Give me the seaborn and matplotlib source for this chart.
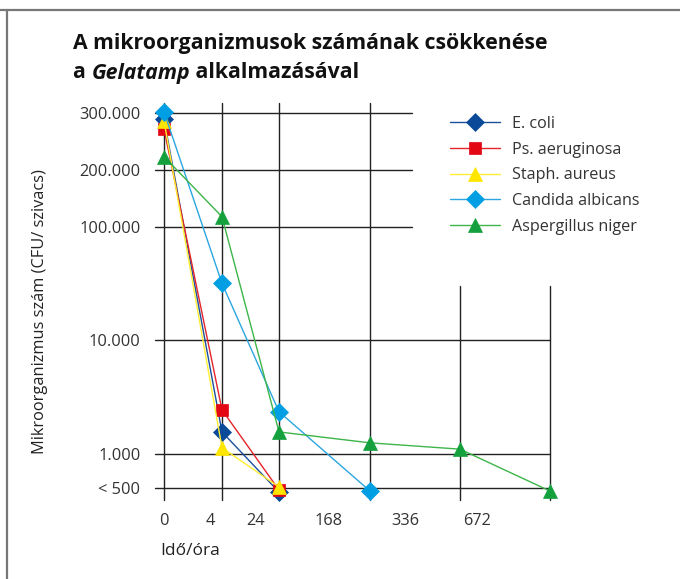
"""Decline of microorganism counts with Gelatamp - recreated chart."""
import numpy as np
import pandas as pd
import matplotlib
matplotlib.use('Agg')
import matplotlib.pyplot as plt
import matplotlib.transforms as mtransforms
from matplotlib.lines import Line2D
import seaborn as sns

# --- data -------------------------------------------------------------
hours = [0, 4, 24, 168, 336, 672]
hour_labels = ['0', '4', '24', '168', '336', '672']

e_coli = [290000, 1560, 460]
ps_aeruginosa = [273000, 2440, 480]
staph_aureus = [287000, 1130, 510]
candida_albicans = [303000, 31800, 2350, 470]
aspergillus_niger = [224000, 118000, 1560, 1250, 1100, 470]

y_ticks = [300000, 200000, 100000, 10000, 1000, 500]
y_labels = ['300.000', '200.000', '100.000', '10.000', '1.000', '< 500']

series = [
    ('E. coli', e_coli, '#1b4f9c', '#0b4a98', 'D', 9.5),
    ('Ps. aeruginosa', ps_aeruginosa, '#e3242b', '#e30613', 's', 9),
    ('Staph. aureus', staph_aureus, '#ffee33', '#ffe600', '^', 10),
    ('Candida albicans', candida_albicans, '#2ba6e0', '#009fe3', 'D', 9.5),
    ('Aspergillus niger', aspergillus_niger, '#3db54a', '#14a03c', '^', 10),
]

rows = []
for name, vals, *_ in series:
    for h, v in zip(hours, vals):
        rows.append({'species': name, 'hours': h, 'cfu': v})
df = pd.DataFrame(rows)

# --- scales -------------------------------------------------------------
# grid positions of the time points (uneven, as in the original)
grid_pos = [0, 58, 115, 206, 296, 386]


def x_fwd(x):
    return np.interp(x, hours, grid_pos)


def x_inv(p):
    return np.interp(p, grid_pos, hours)


def y_fwd(y):
    y = np.clip(np.asarray(y, dtype=float), 1e-3, None)
    return np.where(y <= 1e5, np.log10(y), 5 + (y - 1e5) / 2e5)


def y_inv(t):
    t = np.asarray(t, dtype=float)
    return np.where(t <= 5, 10 ** np.minimum(t, 5), 1e5 + (t - 5) * 2e5)


# --- figure -----------------------------------------------------------
sns.set_style('white')
plt.rcParams['font.family'] = ['Open Sans', 'DejaVu Sans']

W, H = 680, 579
fig = plt.figure(figsize=(W / 100, H / 100), dpi=100)

ax_left, ax_right, ax_top, ax_bottom = 164, 550, 103, 488
ax = fig.add_axes([ax_left / W, 1 - ax_bottom / H,
                   (ax_right - ax_left) / W, (ax_bottom - ax_top) / H])
ax.set_xscale('function', functions=(x_fwd, x_inv))
ax.set_yscale('function', functions=(y_fwd, y_inv))
ax.set_xlim(0, 672)
ax.set_ylim(500, float(y_inv(5 + (227 - ax_top) / 113.5)))
for s in ax.spines.values():
    s.set_visible(False)

axw = ax_right - ax_left
axh = ax_bottom - ax_top
grid_kw = dict(color='#222222', linewidth=1.0, clip_on=False, zorder=1)
for yv in y_ticks:
    xmax = (412 - ax_left) / axw if yv >= 100000 else 1.0
    ax.axhline(yv, xmin=-9 / axw, xmax=xmax, **grid_kw)
for h in hours:
    ymax = (ax_bottom - 286) / axh if h >= 336 else 1.0
    ax.axvline(h, ymin=-12 / axh, ymax=ymax, **grid_kw)

for name, vals, lc, mc, mk, ms in series:
    sub = df[df['species'] == name]
    sns.lineplot(data=sub, x='hours', y='cfu', ax=ax, color=lc, linewidth=1.0,
                 marker=mk, markersize=ms, markerfacecolor=mc,
                 markeredgecolor=mc, markeredgewidth=0.5, estimator=None,
                 sort=False, label=name, clip_on=False, zorder=3)

ax.set_xlabel('')
ax.set_ylabel('')
ax.set_yticks(y_ticks, y_labels)
ax.set_xticks(hours, hour_labels)
ax.yaxis.set_minor_locator(matplotlib.ticker.NullLocator())
ax.xaxis.set_minor_locator(matplotlib.ticker.NullLocator())
ax.tick_params(axis='y', length=0, pad=17, labelsize=11.8, labelcolor='#333333')
ax.tick_params(axis='x', length=0, pad=18, labelsize=11.8, labelcolor='#333333')

# tick labels sit left of their grid lines in the original
label_shift = [0, -12, -23, -41, -55, -73]
for lab, dx in zip(ax.get_xticklabels(), label_shift):
    lab.set_transform(lab.get_transform() +
                      mtransforms.ScaledTranslation(dx / 100, 0, fig.dpi_scale_trans))

leg = ax.legend(loc='upper left', bbox_to_anchor=(450 / W, 1 - 116 / H),
                bbox_transform=fig.transFigure, frameon=False, borderpad=0,
                borderaxespad=0, handlelength=3.1, handletextpad=0.75,
                labelspacing=0.6, fontsize=11.6)
for t in leg.get_texts():
    t.set_color('#333333')

# titles and axis labels
title_kw = dict(fontsize=15.3, fontweight='bold', va='center', ha='left',
                color='#111111')
fig.text(73 / W, 1 - 43 / H, 'A mikroorganizmusok számának csökkenése', **title_kw)
t1 = fig.text(73 / W, 1 - 73 / H, 'a ', **title_kw)
fig.canvas.draw()
r = fig.canvas.get_renderer()
bb1 = t1.get_window_extent(r)
t2 = fig.text(bb1.x1 / W, 1 - 73 / H, 'Gelatamp', style='italic', **title_kw)
fig.canvas.draw()
bb2 = t2.get_window_extent(r)
fig.text(bb2.x1 / W, 1 - 73 / H, ' alkalmazásával', **title_kw)

fig.text(40 / W, 1 - 312 / H, 'Mikroorganizmus szám (CFU/ szivacs)',
         rotation=90, va='center', ha='center', fontsize=11.8, color='#222222')
fig.text(160 / W, 1 - 551 / H, 'Idő/óra', va='center', ha='left',
         fontsize=12.5, color='#222222')

# thin frame on top and left like the source page
fig.add_artist(Line2D([0, 1], [1 - 10 / H, 1 - 10 / H], transform=fig.transFigure,
                      color='#777777', linewidth=1.6))
fig.add_artist(Line2D([7 / W, 7 / W], [0, 1 - 10 / H], transform=fig.transFigure,
                      color='#777777', linewidth=1.6))

fig.savefig('out.png', dpi=100)
